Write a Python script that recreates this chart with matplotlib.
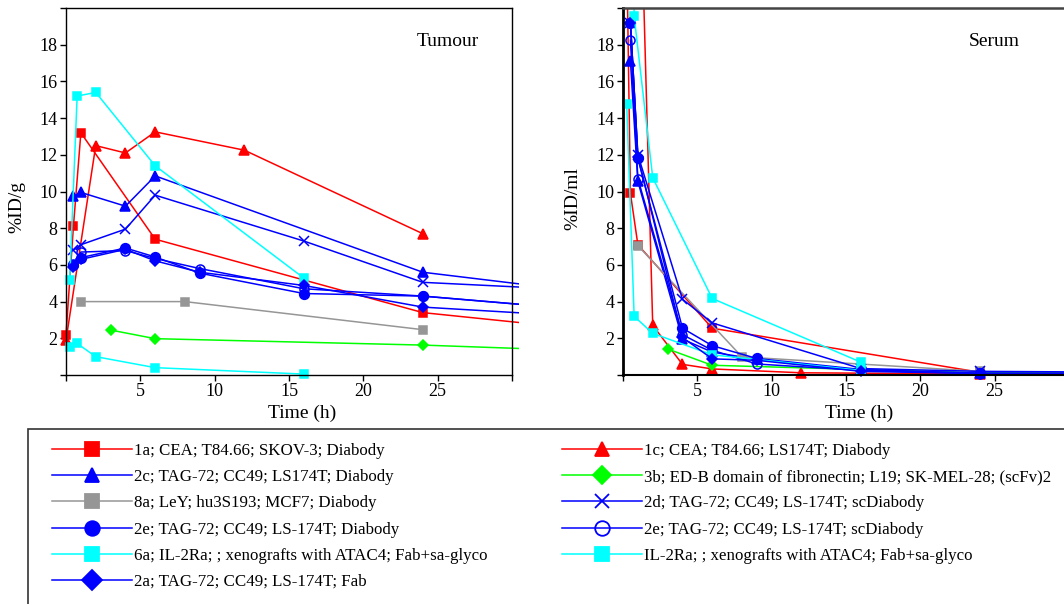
import matplotlib.pyplot as plt
from matplotlib.lines import Line2D
from matplotlib.patches import Rectangle

plt.rcParams['font.family'] = ['Liberation Serif', 'DejaVu Serif']

# ---- tumour uptake (%ID/g) ----
tum_t_1a = [0, 0.5, 1, 6, 24, 48]
tum_1a = [2.2, 8.1, 13.2, 7.4, 3.4, 1.4]
tum_t_1c = [0, 2, 4, 6, 12, 24]
tum_1c = [1.9, 12.5, 12.1, 13.25, 12.25, 7.7]
tum_t_2c = [0.5, 1, 4, 6, 24, 48]
tum_2c = [9.75, 9.95, 9.2, 10.85, 5.6, 3.25]
tum_t_3b = [3, 6, 24, 48]
tum_3b = [2.45, 1.98, 1.63, 0.95]
tum_t_8a = [1, 8, 24]
tum_8a = [4.0, 4.0, 2.47]
tum_t_2d = [0.5, 1, 4, 6, 16, 24, 48]
tum_2d = [6.8, 7.1, 7.95, 9.8, 7.3, 5.05, 4.1]
tum_t_2e = [0.5, 1, 4, 6, 9, 16, 24, 48]
tum_2e = [5.98, 6.4, 6.92, 6.43, 5.55, 4.44, 4.3, 2.65]
tum_t_2e_sc = [0.5, 1, 4, 6, 9, 16, 24, 48]
tum_2e_sc = [6.05, 6.7, 6.78, 6.35, 5.8, 4.7, 4.3, 2.65]
tum_t_6a = [0.25, 0.75, 2, 6, 16]
tum_6a = [5.2, 15.2, 15.4, 11.4, 5.28]
tum_t_il2 = [0.25, 0.75, 2, 6, 16]
tum_il2 = [1.5, 1.72, 1.0, 0.4, 0.05]
tum_t_2a = [0.5, 1, 4, 6, 9, 16, 24, 48]
tum_2a = [5.9, 6.3, 6.85, 6.22, 5.6, 4.88, 3.7, 2.55]

# ---- serum levels (%ID/ml) ----
ser_t_1a = [0.1, 0.5, 1, 6, 24, 48]
ser_1a = [31, 9.9, 7.1, 2.55, 0.15, 0.05]
ser_t_1c = [1, 2, 4, 6, 12, 24, 48]
ser_1c = [32, 2.7, 0.58, 0.33, 0.12, 0.06, 0.03]
ser_t_2c = [0.5, 1, 4, 6, 9, 16, 24, 48]
ser_2c = [17.1, 10.55, 1.95, 1.25, 0.85, 0.25, 0.1, 0.05]
ser_t_3b = [3, 6, 24, 48]
ser_3b = [1.42, 0.53, 0.12, 0.05]
ser_t_8a = [1, 8, 24]
ser_8a = [7.05, 0.99, 0.2]
ser_t_2d = [0.5, 1, 4, 6, 16, 24, 48]
ser_2d = [19.2, 12.0, 4.13, 2.84, 0.35, 0.2, 0.08]
ser_t_2e = [0.5, 1, 4, 6, 9, 16, 24, 48]
ser_2e = [19.2, 11.8, 2.55, 1.6, 0.9, 0.3, 0.1, 0.05]
ser_t_2e_sc = [0.5, 1, 4, 6, 9, 16, 24, 48]
ser_2e_sc = [18.25, 10.7, 2.2, 1.35, 0.6, 0.25, 0.08, 0.04]
ser_t_6a = [0.25, 0.75, 2, 6, 16]
ser_6a = [14.75, 3.2, 2.27, 1.1, 0.25]
ser_t_il2 = [0.25, 0.75, 2, 6, 16]
ser_il2 = [60, 19.55, 10.75, 4.17, 0.7]
ser_t_2a = [0.5, 1, 4, 6, 9, 16, 24, 48]
ser_2a = [19.2, 11.9, 2.05, 0.88, 0.8, 0.2, 0.08, 0.04]

labels = [
    '1a; CEA; T84.66; SKOV-3; Diabody',
    '1c; CEA; T84.66; LS174T; Diabody',
    '2c; TAG-72; CC49; LS174T; Diabody',
    '3b; ED-B domain of fibronectin; L19; SK-MEL-28; (scFv)2',
    '8a; LeY; hu3S193; MCF7; Diabody',
    '2d; TAG-72; CC49; LS-174T; scDiabody',
    '2e; TAG-72; CC49; LS-174T; Diabody',
    '2e; TAG-72; CC49; LS-174T; scDiabody',
    '6a; IL-2Ra; ; xenografts with ATAC4; Fab+sa-glyco',
    'IL-2Ra; ; xenografts with ATAC4; Fab+sa-glyco',
    '2a; TAG-72; CC49; LS-174T; Fab',
]

tumour = [(tum_t_1a, tum_1a), (tum_t_1c, tum_1c), (tum_t_2c, tum_2c), (tum_t_3b, tum_3b),
          (tum_t_8a, tum_8a), (tum_t_2d, tum_2d), (tum_t_2e, tum_2e), (tum_t_2e_sc, tum_2e_sc),
          (tum_t_6a, tum_6a), (tum_t_il2, tum_il2), (tum_t_2a, tum_2a)]
serum = [(ser_t_1a, ser_1a), (ser_t_1c, ser_1c), (ser_t_2c, ser_2c), (ser_t_3b, ser_3b),
         (ser_t_8a, ser_8a), (ser_t_2d, ser_2d), (ser_t_2e, ser_2e), (ser_t_2e_sc, ser_2e_sc),
         (ser_t_6a, ser_6a), (ser_t_il2, ser_il2), (ser_t_2a, ser_2a)]

RED, BLUE, GREY, GREEN, CYAN = '#ff0000', '#0000ff', '#969696', '#00ff00', '#00ffff'
# colour, marker, filled, plot size, legend size
styles = [
    (RED, 's', True, 6, 9.5),
    (RED, '^', True, 6.5, 10.5),
    (BLUE, '^', True, 6.5, 10.5),
    (GREEN, 'D', True, 5, 9.5),
    (GREY, 's', True, 6, 9.5),
    (BLUE, 'x', True, 6.5, 9.5),
    (BLUE, 'o', True, 7, 10.5),
    (BLUE, 'o', False, 6.5, 10.5),
    (CYAN, 's', True, 6, 9.5),
    (CYAN, 's', True, 6, 9.5),
    (BLUE, 'D', True, 5, 10),
]

fig = plt.figure(figsize=(10.64, 6.04), dpi=100)
W, H = 1064, 604
ax1 = fig.add_axes([66 / W, 1 - 375 / H, 446 / W, 367 / H])
ax2 = fig.add_axes([623 / W, 1 - 375 / H, 446 / W, 367 / H])


def draw(ax, data, extend=0.0):
    # markers on the y axis stay whole; lines may run a little past the right edge
    clip = Rectangle((-0.03, -0.03), 1.03 + extend, 1.03, transform=ax.transAxes, visible=False)
    ax.add_patch(clip)
    for (t, v), (c, m, filled, ms, _) in zip(data, styles):
        ln, = ax.plot(t, v, color=c, lw=1.1, marker=m, ms=ms,
                      mfc=c if filled else 'none', mec=c, mew=1.1)
        ln.set_clip_path(clip)


draw(ax1, tumour, extend=0.016)
draw(ax2, serum)

for ax in (ax1, ax2):
    ax.set_xlim(0, 30)
    ax.set_ylim(0, 20)
    ax.set_xticks(range(0, 31, 5))
    ax.set_xticklabels(['' if x in (0, 30) else str(x) for x in range(0, 31, 5)])
    ax.set_yticks(range(0, 21, 2))
    ax.set_yticklabels(['' if y in (0, 20) else str(y) for y in range(0, 21, 2)])
    ax.tick_params(direction='out', length=4, width=1, labelsize=13, pad=2)
    ax.set_xlabel('Time (h)', fontsize=14)

for s in ax1.spines.values():
    s.set_linewidth(1)
ax2.spines['left'].set_linewidth(2)
ax2.spines['bottom'].set_linewidth(1.5)
ax2.spines['top'].set_linewidth(1.8)
ax2.spines['top'].set_color('#444444')

ax1.set_ylabel('%ID/g', fontsize=14)
ax2.set_ylabel('%ID/ml', fontsize=14)
ax1.yaxis.set_label_coords(-0.09, 0.458)
ax2.yaxis.set_label_coords(-0.094, 0.482)
ax1.xaxis.set_label_coords(0.529, -0.08)
ax2.xaxis.set_label_coords(0.529, -0.08)

ax1.text(0.925, 0.91, 'Tumour', transform=ax1.transAxes, fontsize=14, ha='right', va='center')
ax2.text(0.89, 0.91, 'Serum', transform=ax2.transAxes, fontsize=14, ha='right', va='center')

# legend frame runs off the right and bottom edges
fig.patches.append(Rectangle((28 / W, -0.1), 1.1, (604 - 429) / H + 0.1,
                             transform=fig.transFigure, fill=False, ec='#333333', lw=1.2))


def proxy(i):
    c, m, filled, _, lms = styles[i]
    return Line2D([], [], color=c, lw=1.1, marker=m, ms=lms,
                  mfc=c if filled else 'none', mec=c, mew=1.3)


left_col = [0, 2, 4, 6, 8, 10]
right_col = [1, 3, 5, 7, 9]
for col, x0 in ((left_col, 52), (right_col, 562)):
    fig.legend([proxy(i) for i in col], [labels[i] for i in col],
               loc='upper left', bbox_to_anchor=(x0 / W, 1 - 443 / H),
               bbox_transform=fig.transFigure, frameon=False, fontsize=12.2,
               handlelength=4.7, handletextpad=0.15, labelspacing=0.6,
               borderpad=0, borderaxespad=0)

fig.savefig('out.png', dpi=100)
